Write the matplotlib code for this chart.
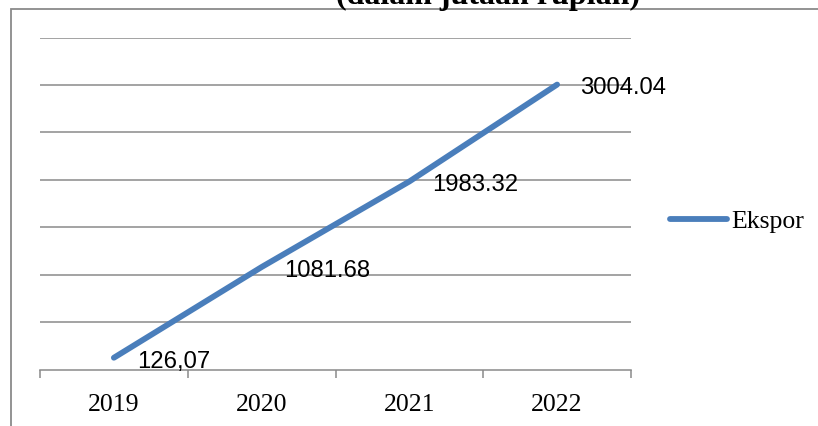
import numpy as np
import matplotlib
matplotlib.use("Agg")
import matplotlib.pyplot as plt
from matplotlib.patches import Rectangle

# ── Data ─────────────────────────────────────────────────────────────────────
years = ["2019", "2020", "2021", "2022"]
ekspor = [126.07, 1081.68, 1983.32, 3004.04]
value_labels = ["126,07", "1081.68", "1983.32", "3004.04"]
series_name = "Ekspor"
title = "(dalam jutaan rupiah)"

W, H = 818, 427
GRID = "#8a8a8a"
BLUE = "#4a7ebb"
serif = ["Liberation Serif", "DejaVu Serif"]
sans = ["Liberation Sans", "DejaVu Sans"]

fig = plt.figure(figsize=(W / 100, H / 100), dpi=100)
ax = fig.add_axes([40 / W, (H - 370.7) / H, (631 - 40) / W, (370.7 - 38.5) / H])

x = np.arange(len(years))
ax.plot(x, ekspor, color=BLUE, lw=4.2, solid_capstyle="round", label=series_name, zorder=3)

for xi, yi, lab in zip(x, ekspor, value_labels):
    ax.annotate(lab, (xi, yi), xytext=(16.5, -2), textcoords="offset points",
                ha="left", va="center", fontsize=17.2, family=sans, zorder=4)

ax.set_xlim(-0.5, len(years) - 0.5)
ax.set_ylim(0, 3500)
ax.set_yticks(np.arange(500, 3501, 500))
ax.yaxis.grid(True, color=GRID, lw=1.1)
ax.set_axisbelow(True)
ax.tick_params(axis="y", length=0, labelleft=False)

ax.set_xticks(x)
ax.set_xticklabels(years, family=serif, fontsize=18.5)
ax.set_xticks(np.arange(-0.5, len(years)), minor=True)
ax.tick_params(axis="x", which="major", length=0, pad=16.5)
ax.tick_params(axis="x", which="minor", length=5.5, width=1.1, color=GRID, direction="out")

for s in ["top", "left", "right"]:
    ax.spines[s].set_visible(False)
ax.spines["bottom"].set_color(GRID)
ax.spines["bottom"].set_linewidth(1.1)

ax.legend(loc="center left", bbox_to_anchor=(670 / W, 1 - 222 / H),
          bbox_transform=fig.transFigure, frameon=False, borderpad=0, borderaxespad=0,
          handlelength=2.2, handletextpad=0.2, prop={"family": serif, "size": 18.5})

# chart frame (runs off the right and bottom of the picture)
fig.patches.append(Rectangle((11 / W, -0.2), 1.5, 1.2 - 10 / H, transform=fig.transFigure,
                             fill=False, ec=GRID, lw=1.3))

# title sits mostly above the picture, only its lower part shows
fig.text(488 / W, 1 - 4 / H, title, ha="center", va="baseline", fontsize=23,
         fontweight="bold", family=serif)

fig.savefig("out.png", dpi=100)
